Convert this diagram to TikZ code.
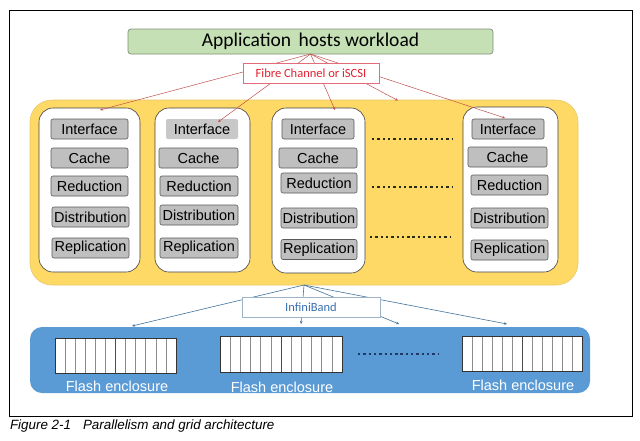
\documentclass[tikz,border=0pt]{standalone}
\usepackage{fontspec}
\setmainfont{Liberation Sans}
\newfontfamily\calibri{Carlito}
\usetikzlibrary{arrows.meta,calc}
\definecolor{grn}{HTML}{C5E0B4}
\definecolor{grnd}{HTML}{7F8F78}
\definecolor{ylw}{HTML}{FFD966}
\definecolor{ylwd}{HTML}{E8C76A}
\definecolor{blu}{HTML}{5B9BD5}
\definecolor{itemgray}{HTML}{BFBFBF}
\definecolor{itemlight}{HTML}{C8C8C8}
\definecolor{itemborder}{HTML}{5A5A5A}
\definecolor{redl}{HTML}{C0504D}
\definecolor{redt}{HTML}{E3202F}
\definecolor{redb}{HTML}{E46C7A}
\definecolor{bluel}{HTML}{41719C}
\definecolor{bluet}{HTML}{3A70B0}
\definecolor{blueb}{HTML}{9DB3C8}
\definecolor{dotc}{HTML}{2A2A1A}
\definecolor{dotb}{HTML}{1F3864}
\begin{document}
\begin{tikzpicture}[x=1pt,y=-1pt,
  box/.style={inner sep=0pt, outer sep=0pt},
  column/.style={box, draw=black!75, line width=0.6pt, fill=white, rounded corners=14pt},
  item/.style={box, draw=itemborder, line width=0.6pt, fill=itemgray, rounded corners=2pt,
    minimum height=20pt, font=\fontsize{14.5}{14.5}\selectfont},
  itemnb/.style={item, draw=none, fill=itemlight},
  redarrow/.style={draw=redl, line width=0.5pt, -{Stealth[length=3pt,width=2.6pt]}},
  bluearrow/.style={draw=bluel, line width=0.6pt, -{Stealth[length=3pt,width=2.6pt]}},
  dotline/.style={draw=dotc, line width=2pt, dash pattern=on 2.4pt off 2.9pt},
  dotblue/.style={draw=dotb, line width=2pt, dash pattern=on 2.4pt off 2.9pt},
  flashlabel/.style={box, text=white, font=\fontsize{14.5}{14.5}\selectfont},
]
\useasboundingbox (0,0) rectangle (640,440);
% outer frame
\draw[line width=0.9pt] (9,10) rectangle (632,416);

% containers
\node[box, draw=ylwd, fill=ylw, line width=0.6pt, rounded corners=22pt,
  minimum width=548pt, minimum height=185pt] (yel) at (304,192.5) {};
\node[box, fill=blu, rounded corners=12pt,
  minimum width=560pt, minimum height=66pt] (blue) at (310,360) {};

% green top box
\node[box, draw=grnd, fill=grn, line width=0.7pt, rounded corners=3pt,
  minimum width=365pt, minimum height=25pt,
  font=\calibri\fontsize{19.5}{19.5}\selectfont] (app) at (310.5,41.5) {Application\hspace{3pt} hosts workload};

% columns
\node[column, minimum width=101pt, minimum height=164pt] (col1) at (89.5,190) {};
\node[column, minimum width=95pt, minimum height=164pt] (col2) at (202.5,190) {};
\node[column, minimum width=93pt, minimum height=165pt] (col3) at (318.5,190.5) {};
\node[column, minimum width=95pt, minimum height=165pt] (col4) at (510.5,189.5) {};

% column 1 items
\node[item, minimum width=77pt] (a1) at (89.5,129) {Interface};
\node[item, minimum width=77pt] (a2) at (89.5,158) {Cache};
\node[item, minimum width=77pt] (a3) at (89.5,186) {Reduction};
\node[item, minimum width=77pt] (a4) at (90.5,217) {Distribution};
\node[item, minimum width=77pt] (a5) at (90.5,248) {Replication};
% column 2 items
\node[itemnb, minimum width=72pt] (b1) at (202,129) {Interface};
\node[item, minimum width=79pt] (b2) at (198.5,158) {Cache};
\node[item, minimum width=78pt] (b3) at (199,186) {Reduction};
\node[item, minimum width=78pt] (b4) at (199,215) {Distribution};
\node[item, minimum width=78pt] (b5) at (199,248) {Replication};
% column 3 items
\node[item, minimum width=72pt] (c1) at (318,129) {Interface};
\node[item, minimum width=78pt] (c2) at (318,158) {Cache};
\node[item, minimum width=76pt] (c3) at (319,183) {Reduction};
\node[item, minimum width=76pt] (c4) at (319,218) {Distribution};
\node[item, minimum width=76pt] (c5) at (319,249.5) {Replication};
% column 4 items
\node[item, minimum width=72pt] (d1) at (508,129) {Interface};
\node[item, minimum width=79pt] (d2) at (507.5,157) {Cache};
\node[item, minimum width=77pt] (d3) at (509.5,185) {Reduction};
\node[item, minimum width=77pt] (d4) at (509.5,218) {Distribution};
\node[item, minimum width=77pt] (d5) at (509.5,250) {Replication};

% dotted continuation lines
\coordinate (dl1) at (372,139); \coordinate (dr1) at (453,139);
\coordinate (dl2) at (372,187); \coordinate (dr2) at (453,187);
\coordinate (dl3) at (370,237); \coordinate (dr3) at (450,237);
\draw[dotline] (dl1) -- (dr1);
\draw[dotline] (dl2) -- (dr2);
\draw[dotline] (dl3) -- (dr3);

% flash enclosures
\foreach \xa/\ya/\xb/\yb in {55/338/176/373, 220/336/342/372, 462/336/582/371} {
  \fill[white] (\xa,\ya) rectangle (\xb,\yb);
  \foreach \k in {1,...,11} {
    \draw[black!45, line width=0.6pt] ({\xa+\k*(\xb-\xa)/12},\ya) -- ({\xa+\k*(\xb-\xa)/12},\yb);
  }
  \draw[black!70, line width=0.7pt] ({\xa+6*(\xb-\xa)/12},\ya) -- ({\xa+6*(\xb-\xa)/12},\yb);
  \draw[black!80, line width=0.8pt] (\xa,\ya) rectangle (\xb,\yb);
}
\node[flashlabel] (f1) at (117,386) {Flash enclosure};
\node[flashlabel] (f2) at (282,387) {Flash enclosure};
\node[flashlabel] (f3) at (523,385) {Flash enclosure};
\coordinate (bl) at (358,354); \coordinate (br) at (439,354);
\draw[dotblue] (bl) -- (br);

% red connectors (Fibre Channel or iSCSI)
\coordinate (r1) at (100,110);
\coordinate (r2) at (218,122);
\coordinate (r3) at (335,110);
\coordinate (r4) at (398,100.5);
\coordinate (r5) at (505,118);
\foreach \t in {r1,r2,r3,r4,r5} { \draw[redarrow] (app.south) -- (\t); }
\node[box, draw=redb, fill=white, line width=0.6pt, minimum width=136pt, minimum height=20pt,
  text=redt, font=\calibri\fontsize{12.5}{12.5}\selectfont] (fc) at (311,73) {Fibre Channel or iSCSI};

% blue connectors (InfiniBand)
\coordinate (s1) at (132,326);
\coordinate (s2) at (301,324);
\coordinate (s3) at (399,324);
\coordinate (s4) at (507,324);
\foreach \t in {s1,s2,s3,s4} { \draw[bluearrow] (yel.south) -- (\t); }
\node[box, draw=blueb, fill=white, line width=0.6pt, minimum width=138pt, minimum height=20pt,
  text=bluet, font=\calibri\fontsize{12.5}{12.5}\selectfont] (ib) at (311,307) {InfiniBand};

% caption
\node[box, anchor=base west, font=\itshape\fontsize{13.4}{13.4}\selectfont] (cap) at (10,429)
  {Figure 2-1\hspace{12pt}Parallelism and grid architecture};
\end{tikzpicture}
\end{document}
